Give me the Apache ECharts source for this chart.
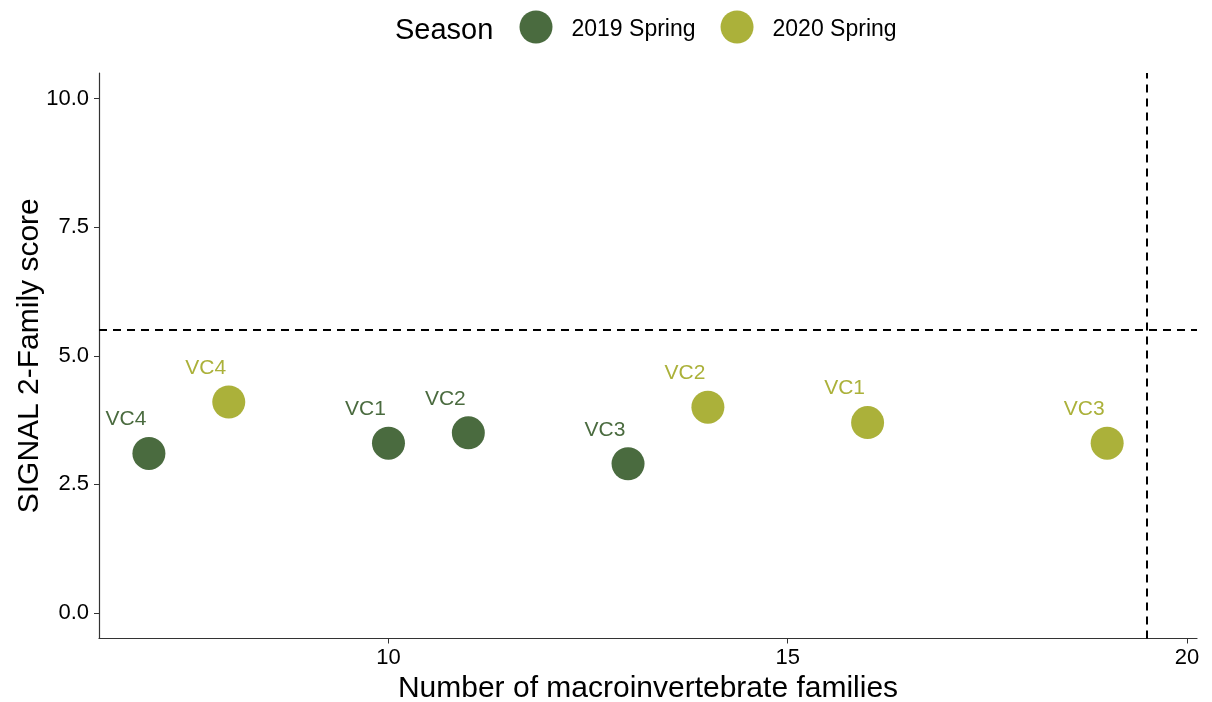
<!DOCTYPE html>
<html>
<head>
<meta charset="utf-8">
<script src="https://cdn.jsdelivr.net/npm/echarts@6/dist/echarts.min.js"></script>
<style>
  html, body { margin: 0; padding: 0; background: #fff; }
  #chart { width: 1212px; height: 702px; }
</style>
</head>
<body>
<div id="chart"></div>
<script>
// Sites sampled in each season
const sites2019 = ['VC4', 'VC1', 'VC2', 'VC3'];
const families2019 = [7, 10, 11, 13];
const signal2019 = [3.1, 3.3, 3.5, 2.9];

const sites2020 = ['VC4', 'VC2', 'VC1', 'VC3'];
const families2020 = [8, 14, 16, 19];
const signal2020 = [4.1, 4.0, 3.7, 3.3];

// Reference thresholds
const familyThreshold = 19.5;
const signalThreshold = 5.5;

const xTicks = [10, 15, 20];
const yTicks = [0, 2.5, 5, 7.5, 10];

const seasonNames = ['2019 Spring', '2020 Spring'];
const seasonColors = ['#4a6b3f', '#abb13a'];

const FONT = 'Liberation Sans, Arial, sans-serif';

function points(xs, ys, names) {
  return xs.map((x, i) => ({ value: [x, ys[i]], name: names[i] }));
}

function seasonSeries(idx, data) {
  return {
    name: seasonNames[idx],
    type: 'scatter',
    data: data,
    symbol: 'circle',
    symbolSize: 33,
    itemStyle: { color: seasonColors[idx], opacity: 1 },
    label: {
      show: true,
      position: 'inside',
      offset: [-23, -34],
      formatter: p => p.name,
      color: seasonColors[idx],
      fontSize: 21,
      fontFamily: FONT
    },
    emphasis: { disabled: true },
    z: 3
  };
}

const chart = echarts.init(document.getElementById('chart'), null, { renderer: 'canvas' });

chart.setOption({
  animation: false,
  backgroundColor: '#fff',
  grid: { left: 99, right: 15, top: 73, bottom: 63.5, containLabel: false, outerBoundsMode: 'none' },
  graphic: [{
    type: 'text',
    left: 395,
    top: 16,
    style: { text: 'Season', fontSize: 29, fontFamily: FONT, fill: '#000' }
  }],
  legend: {
    left: 514.5,
    top: 5.5,
    itemWidth: 33,
    itemHeight: 33,
    itemGap: 25,
    icon: 'circle',
    data: seasonNames,
    formatter: name => '{t|' + name + '}',
    textStyle: {
      fontSize: 23, fontFamily: FONT, color: '#000', padding: [0, 0, 0, 14],
      rich: { t: { fontSize: 23, fontFamily: FONT, color: '#000', padding: [5, 0, 0, 0] } }
    }
  },
  xAxis: {
    type: 'value',
    min: 6.375,
    max: 20.125,
    name: 'Number of macroinvertebrate families',
    nameLocation: 'middle',
    nameGap: 35,
    nameMoveOverlap: false,
    nameTextStyle: { fontSize: 30, fontFamily: FONT, color: '#000' },
    axisLine: { show: true, onZero: false, lineStyle: { color: '#333', width: 1.2 } },
    axisTick: { show: true, length: 5, customValues: xTicks, lineStyle: { color: '#333' } },
    axisLabel: { customValues: xTicks, fontSize: 22, fontFamily: FONT, color: '#000', margin: 8 },
    splitLine: { show: false }
  },
  yAxis: {
    type: 'value',
    min: -0.5,
    max: 10.5,
    name: 'SIGNAL 2-Family score',
    nameLocation: 'middle',
    nameGap: 54,
    nameMoveOverlap: false,
    nameRotate: 90,
    nameTextStyle: { fontSize: 30, fontFamily: FONT, color: '#000' },
    axisLine: { show: true, onZero: false, lineStyle: { color: '#333', width: 1.2 } },
    axisTick: { show: true, length: 5, customValues: yTicks, lineStyle: { color: '#333' } },
    axisLabel: {
      customValues: yTicks,
      formatter: v => v.toFixed(1),
      fontSize: 22, fontFamily: FONT, color: '#000', margin: 10
    },
    splitLine: { show: false }
  },
  series: [
    seasonSeries(0, points(families2019, signal2019, sites2019)),
    seasonSeries(1, points(families2020, signal2020, sites2020)),
    {
      type: 'scatter',
      data: [],
      silent: true,
      markLine: {
        silent: true,
        symbol: 'none',
        label: { show: false },
        lineStyle: { color: '#000', type: [8, 6], width: 2 },
        data: [{ xAxis: familyThreshold }, { yAxis: signalThreshold }]
      },
      z: 2
    }
  ]
});
</script>
</body>
</html>
